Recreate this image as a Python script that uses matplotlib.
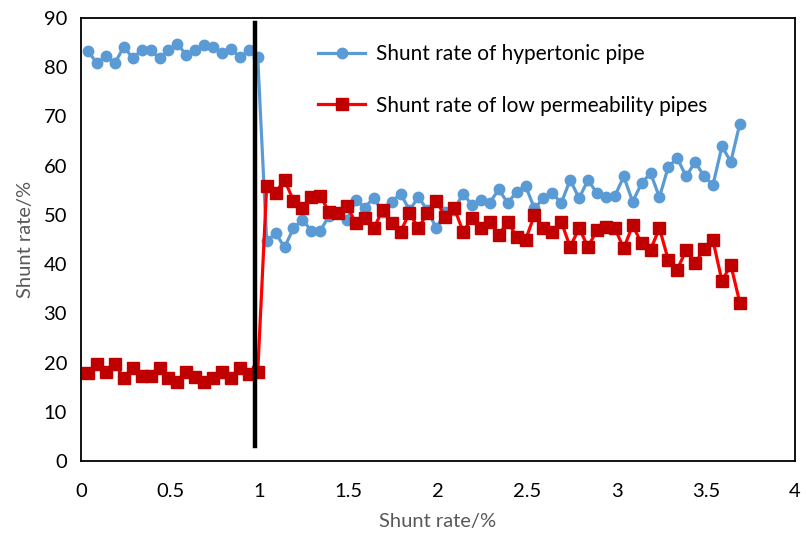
import matplotlib
matplotlib.use("Agg")
import matplotlib.pyplot as plt

plt.rcParams['font.family'] = ['Lato', 'DejaVu Sans']

# x positions of the measurements (shunt rate, %)
x = [0.04, 0.09, 0.14, 0.19, 0.24, 0.29, 0.34, 0.39, 0.44, 0.49,
     0.54, 0.59, 0.64, 0.69, 0.74, 0.79, 0.84, 0.89, 0.94, 0.99,
     1.04, 1.09, 1.14, 1.19, 1.24, 1.29, 1.34, 1.39, 1.44, 1.49,
     1.54, 1.59, 1.64, 1.69, 1.74, 1.79, 1.84, 1.89, 1.94, 1.99,
     2.04, 2.09, 2.14, 2.19, 2.24, 2.29, 2.34, 2.39, 2.44, 2.49,
     2.54, 2.59, 2.64, 2.69, 2.74, 2.79, 2.84, 2.89, 2.94, 2.99,
     3.04, 3.09, 3.14, 3.19, 3.24, 3.29, 3.34, 3.39, 3.44, 3.49,
     3.54, 3.59, 3.64, 3.69]

# shunt rate of hypertonic pipe
high = [83.2, 80.8, 82.3, 80.8, 84.2, 81.8, 83.5, 83.4, 81.8, 83.5,
        84.7, 82.5, 83.5, 84.6, 84.2, 82.8, 83.8, 82.0, 83.4, 82.0,
        44.6, 46.3, 43.4, 47.3, 49.0, 46.8, 46.8, 49.8, 50.3, 49.0,
        53.0, 51.5, 53.5, 50.5, 52.6, 54.3, 51.0, 53.6, 51.0, 47.3,
        50.5, 51.0, 54.3, 52.0, 53.0, 52.5, 55.2, 52.4, 54.7, 55.9,
        51.3, 53.4, 54.4, 52.4, 57.1, 53.4, 57.1, 54.4, 53.7, 53.8,
        57.8, 52.7, 56.4, 58.5, 53.6, 59.8, 61.5, 57.8, 60.8, 57.8,
        56.1, 63.9, 60.8, 68.5]

# shunt rate of low permeability pipes
low = [17.8, 19.7, 18.1, 19.7, 16.8, 18.8, 17.3, 17.3, 18.8, 16.8,
       16.1, 18.1, 17.1, 16.1, 16.8, 18.1, 16.8, 18.8, 17.6, 18.1,
       55.9, 54.5, 57.1, 52.9, 51.3, 53.6, 53.8, 50.6, 50.4, 51.8,
       48.3, 49.3, 47.3, 51.0, 48.3, 46.6, 50.4, 47.3, 50.4, 52.9,
       49.6, 51.5, 46.6, 49.3, 47.3, 48.6, 45.9, 48.6, 45.6, 44.9,
       50.0, 47.3, 46.6, 48.6, 43.5, 47.3, 43.5, 46.9, 47.6, 47.3,
       43.2, 47.9, 44.2, 42.9, 47.3, 40.8, 38.9, 42.9, 40.2, 43.0,
       44.8, 36.6, 39.8, 32.2]

split_x = 0.975      # position of the vertical divider
split_y = [3, 89]

fig = plt.figure(figsize=(8.06, 5.34), dpi=100)
ax = fig.add_axes([0.1005, 0.1367, 0.886, 0.8296])

ax.plot(x, high, color='#5B9BD5', linewidth=2.3, marker='o', markersize=7.5,
        label='Shunt rate of hypertonic pipe')
ax.plot(x, low, color='#FF0000', linewidth=2.3, marker='s', markersize=8,
        markerfacecolor='#C00000', markeredgecolor='#C00000',
        label='Shunt rate of low permeability pipes')
ax.plot([split_x, split_x], split_y, color='black', linewidth=3.2)

ax.set_xlim(0, 4)
ax.set_ylim(0, 90)
ax.set_xticks([0, 0.5, 1, 1.5, 2, 2.5, 3, 3.5, 4])
ax.set_xticklabels(['0', '0.5', '1', '1.5', '2', '2.5', '3', '3.5', '4'])
ax.set_yticks(range(0, 91, 10))
ax.tick_params(length=0, labelsize=14.5)
ax.tick_params(axis='x', pad=16)
ax.tick_params(axis='y', pad=10)
for s in ax.spines.values():
    s.set_color('black')
    s.set_linewidth(1.3)

ax.set_xlabel('Shunt rate/%', fontsize=14.5, color='#595959', labelpad=9)
ax.set_ylabel('Shunt rate/%', fontsize=14.5, color='#595959', labelpad=7)

ax.legend(loc='upper left', bbox_to_anchor=(0.306, 0.983), frameon=False,
          fontsize=15, labelspacing=1.5, handlelength=2.25, handletextpad=0.5)

fig.savefig('out.png', dpi=100)
